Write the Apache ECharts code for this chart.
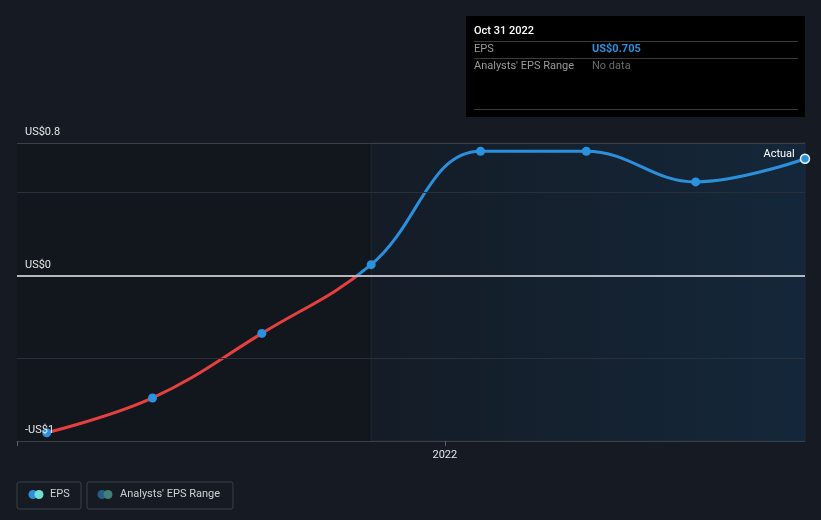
<!DOCTYPE html>
<html><head><meta charset="utf-8">
<script src="https://cdn.jsdelivr.net/npm/echarts@6/dist/echarts.min.js"></script>
<style>html,body{margin:0;padding:0;background:#151a23;}#c{width:821px;height:520px;}</style>
</head><body><div id="c"></div>
<script>
var dates = ['2021-01-31','2021-04-30','2021-07-31','2021-10-31','2022-01-31','2022-04-30','2022-07-31','2022-10-31'];
var eps = [-0.95, -0.74, -0.35, 0.065, 0.75, 0.75, 0.565, 0.705];
var yTickValues = [-1, 0, 0.8];
var yTickLabels = ['-US$1', 'US$0', 'US$0.8'];
var xLabelDate = '2022-01-01';
var axisStart = '2021-01-06';
var axisEnd = '2022-10-31';
var splitDate = '2021-10-31';

function ts(d){var p=d.split('-');return Date.UTC(+p[0],+p[1]-1,+p[2]);}
var pts = dates.map(function(d,i){return [ts(d), eps[i]];});
var font = 'Roboto, "Noto Sans", sans-serif';
var xMin = ts(axisStart), xMax = ts(axisEnd), xLab = ts(xLabelDate);

var chart = echarts.init(document.getElementById('c'), null, {renderer:'canvas'});
var option = {
  backgroundColor:'#151a23',
  animation:false,
  grid:{left:17,right:16,top:143,bottom:79,containLabel:false},
  xAxis:{type:'value',min:xMin,max:xMax,interval:xLab-xMin,z:10,
    axisLine:{show:true,onZero:false,lineStyle:{color:'#3a4049',width:1}},
    axisTick:{show:true,length:5,lineStyle:{color:'#5a6069'}},
    axisLabel:{color:'#e6e6e6',fontSize:11,fontFamily:font,margin:9,showMinLabel:true,showMaxLabel:false,
      formatter:function(v){return Math.abs(v-xLab)<1000 ? String(new Date(v).getUTCFullYear()) : '';}},
    splitLine:{show:false}},
  yAxis:{type:'value',min:-1,max:0.8,z:10,
    axisLine:{show:false},axisTick:{show:false},splitLine:{show:false},
    axisLabel:{customValues:yTickValues,inside:true,margin:8,verticalAlign:'bottom',padding:[0,0,5,0],color:'#e6e6e6',fontSize:11,fontFamily:font,
      formatter:function(v){
        for (var i=0;i<yTickValues.length;i++){ if (Math.abs(v-yTickValues[i])<1e-6) return yTickLabels[i]; }
        return '';
      }}},
  series:[
    {type:'line',data:pts,z:1,silent:true,symbol:'none',lineStyle:{opacity:0},
     markArea:{silent:true,data:[
       [{xAxis:xMin,itemStyle:{color:'#12161d'}},{xAxis:ts(splitDate)}],
       [{xAxis:ts(splitDate),itemStyle:{color:{type:'linear',x:0,y:0,x2:1,y2:0,colorStops:[{offset:0,color:'#141c26'},{offset:1,color:'#14273a'}]},borderColor:'#1f2b38',borderWidth:1}},{xAxis:xMax}]
     ]},
     markLine:{silent:true,symbol:'none',label:{show:false},data:[
       {yAxis:0.8,lineStyle:{color:'#3a4049',width:1,type:'solid'}},
       {yAxis:0.5,lineStyle:{color:'#2a3039',width:1,type:'solid'}},
       {yAxis:-0.5,lineStyle:{color:'#2a3039',width:1,type:'solid'}},
       {yAxis:0,lineStyle:{color:'#b4b8bd',width:2,type:'solid'}}
     ]}},
    {type:'line',data:pts,z:2,smooth:0.4,symbol:'none',lineStyle:{width:3,color:'#2b8fdc'}},
    {type:'scatter',z:3,symbolSize:9,itemStyle:{color:'#2b92e0',opacity:1},
     data:pts.map(function(p,i){
       if(i===pts.length-1) return {value:p,symbolSize:9,itemStyle:{color:'#2b92e0',borderColor:'#e8f2fb',borderWidth:1.5,opacity:1},
         label:{show:true,formatter:'Actual',position:'left',distance:5,offset:[0,-4],color:'#ffffff',fontSize:11,fontFamily:font}};
       return p;})}
  ],
  graphic:[
    {type:'rect',left:466,top:16,shape:{width:339,height:101},style:{fill:'#000000'}},
    {type:'text',left:474,top:26,style:{text:'Oct 31 2022',fill:'#ffffff',font:'500 11px '+font}},
    {type:'line',shape:{x1:474,y1:41.5,x2:798,y2:41.5},style:{stroke:'#3a3a3a',lineWidth:1}},
    {type:'text',left:474,top:44,style:{text:'EPS',fill:'#9a9a9a',font:'11px '+font}},
    {type:'text',left:592,top:44,style:{text:'US$0.705',fill:'#2b8fdc',font:'bold 11px '+font}},
    {type:'line',shape:{x1:474,y1:58.5,x2:798,y2:58.5},style:{stroke:'#3a3a3a',lineWidth:1}},
    {type:'text',left:474,top:61,style:{text:"Analysts' EPS Range",fill:'#9a9a9a',font:'11px '+font}},
    {type:'text',left:592,top:61,style:{text:'No data',fill:'#6a6a6a',font:'11px '+font}},
    {type:'line',shape:{x1:474,y1:109.5,x2:798,y2:109.5},style:{stroke:'#3a3a3a',lineWidth:1}},
    {type:'rect',shape:{x:17,y:482,width:64,height:27,r:2},style:{fill:'none',stroke:'#3a4049',lineWidth:1}},
    {type:'circle',shape:{cx:33,cy:494.5,r:4.5},style:{fill:'#2b8fdc'}},
    {type:'circle',shape:{cx:39,cy:494.5,r:4.5},style:{fill:'#6de0d0'}},
    {type:'text',left:50,top:489,style:{text:'EPS',fill:'#d0d0d0',font:'11px '+font}},
    {type:'rect',shape:{x:87,y:482,width:146,height:27,r:2},style:{fill:'none',stroke:'#3a4049',lineWidth:1}},
    {type:'circle',shape:{cx:102,cy:494.5,r:4.5},style:{fill:'#245d8c'}},
    {type:'circle',shape:{cx:108,cy:494.5,r:4.5},style:{fill:'#3f8079'}},
    {type:'text',left:120,top:489,style:{text:"Analysts' EPS Range",fill:'#d0d0d0',font:'11px '+font}}
  ]
};
chart.setOption(option);
// Red below zero, blue above: hard-stop gradient placed at the library's pixel for y = 0
var zeroY = chart.convertToPixel({gridIndex:0}, [xMin, 0])[1];
var H = chart.getHeight();
var off = zeroY / H;
chart.setOption({series:[{},{lineStyle:{color:{type:'linear',global:true,x:0,y:0,x2:0,y2:H,
  colorStops:[{offset:0,color:'#2b8fdc'},{offset:off,color:'#2b8fdc'},{offset:off,color:'#e4403f'},{offset:1,color:'#e4403f'}]}}},{}]});
</script></body></html>
